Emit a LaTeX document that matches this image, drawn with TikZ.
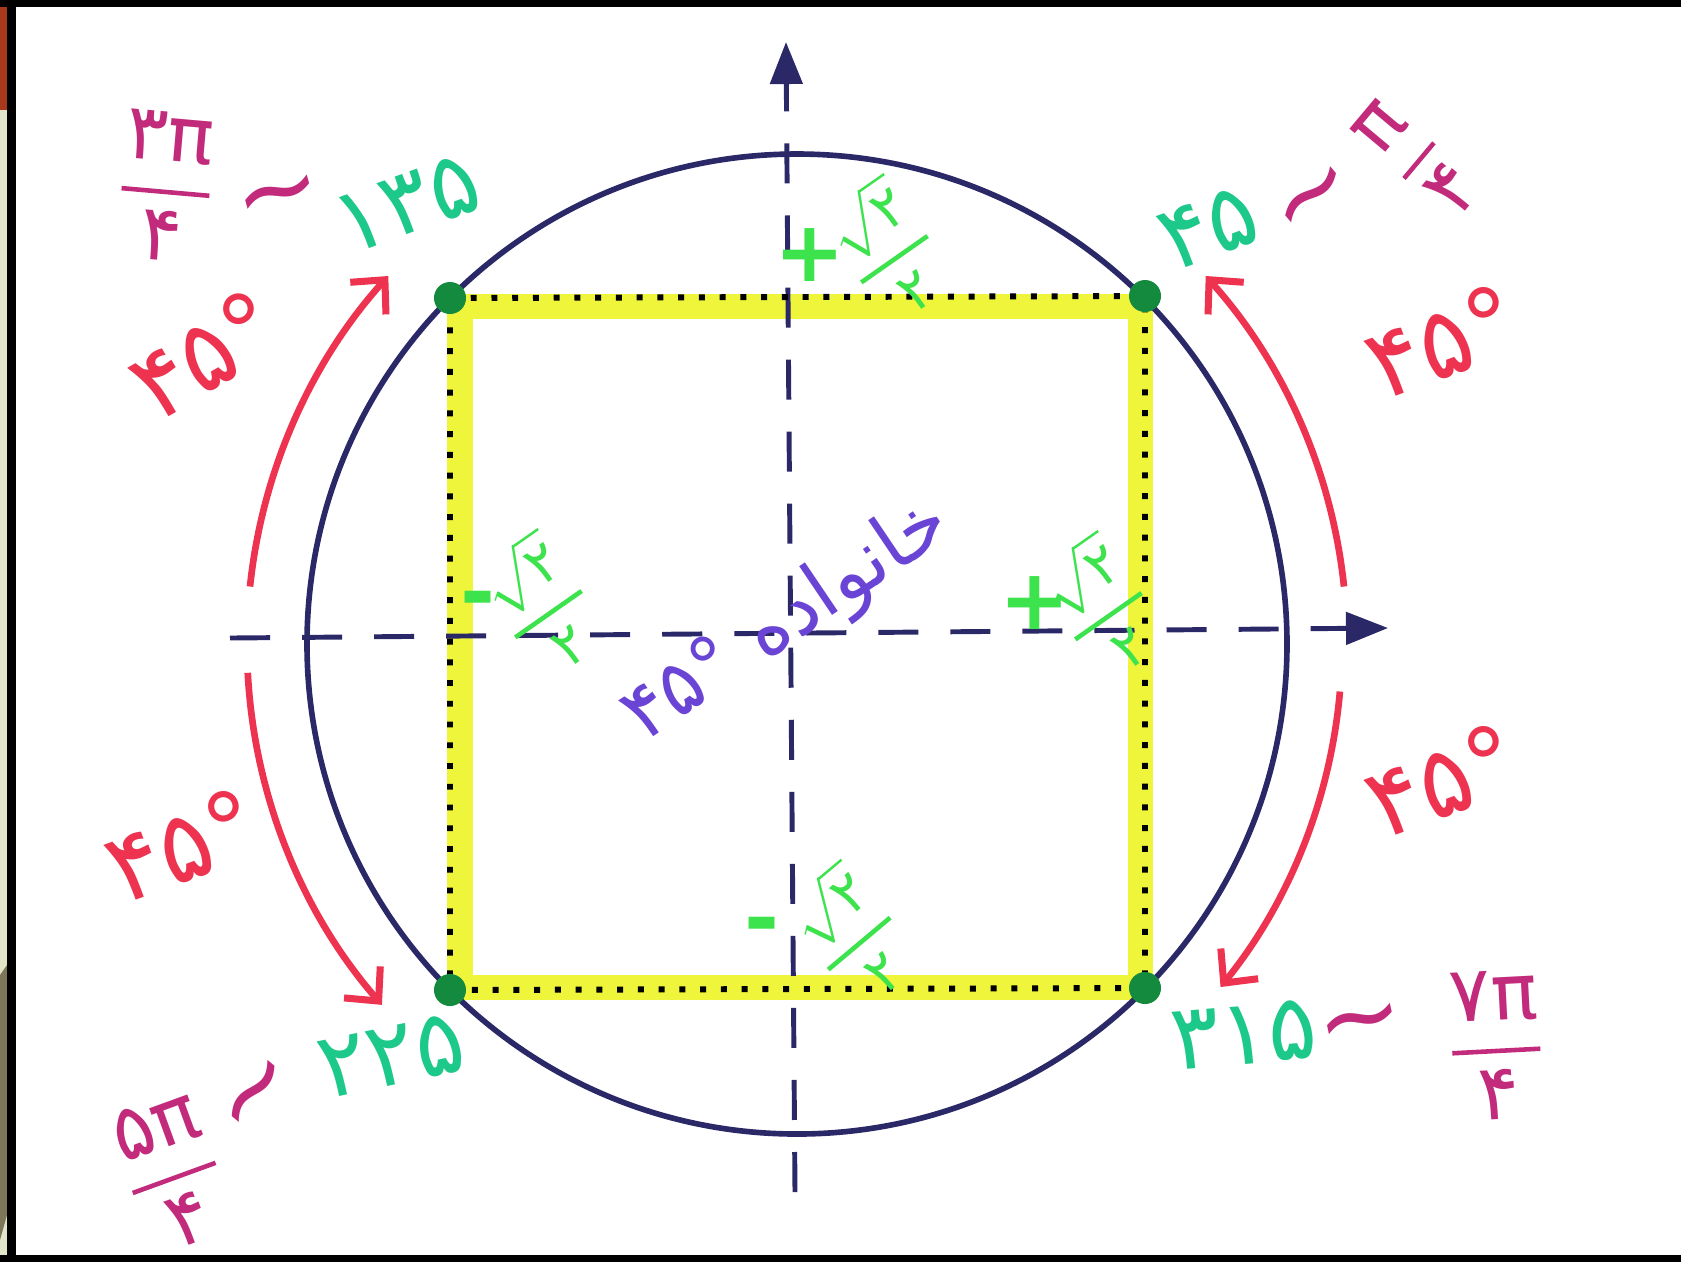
\documentclass[tikz,border=0pt]{standalone}
\usepackage{amsmath}
\usepackage{fontspec}
\setmainfont{DejaVu Sans}
\newfontfamily\fafont[Script=Arabic]{DejaVu Sans}
\TeXXeTstate=1
\usetikzlibrary{arrows.meta, calc, positioning}

\definecolor{navy}{HTML}{2B2868}
\definecolor{hilite}{HTML}{EEF53A}
\definecolor{dotgreen}{HTML}{138A3E}
\definecolor{degteal}{HTML}{1CC98A}
\definecolor{sqgreen}{HTML}{3DE34C}
\definecolor{arcred}{HTML}{EE3350}
\definecolor{pimag}{HTML}{C22A7C}
\definecolor{famviolet}{HTML}{6A44D4}
\definecolor{stripbg}{HTML}{E1E5C9}
\definecolor{stripdark}{HTML}{7D7658}
\definecolor{brick}{HTML}{A8381A}

\newcommand{\handfrac}[2]{\ensuremath{\genfrac{}{}{1.3pt}{0}{#1}{#2}}}

\begin{document}
\begin{tikzpicture}[x=0.01cm, y=-0.01cm,
        axis/.style={navy, line width=1.4pt, dash pattern=on 0.4cm off 0.32cm, -{Triangle[length=0.42cm, width=0.32cm]}},
        ring/.style={navy, line width=1.6pt},
        band/.style={hilite, line width=0.25cm},
        dotline/.style={black, line width=1.7pt, dash pattern=on 1.7pt off 4.2pt},
        dot/.style={circle, fill=dotgreen, inner sep=0pt, minimum size=0.32cm},
        deglab/.style={degteal, inner sep=0pt, font=\fontsize{26}{30}\selectfont\fafont},
        arclab/.style={arcred, inner sep=0pt, font=\fontsize{28}{32}\selectfont\fafont},
        pilab/.style={pimag, inner sep=0pt, font=\fontsize{22}{26}\selectfont},
        tildemark/.style={pimag, inner sep=0pt, font=\fontsize{30}{34}\selectfont},
        sqlab/.style={sqgreen, inner sep=0pt, font=\fontsize{16}{19}\selectfont},
        sqsign/.style={sqgreen, inner sep=0pt, font=\fontsize{24}{28}\selectfont\bfseries},
        famlab/.style={famviolet, inner sep=0pt, font=\fontsize{22}{26}\selectfont\fafont},
        arcarrow/.style={arcred, line width=1.9pt, -{Straight Barb[length=0.25cm, width=0.48cm, line width=2pt]}}
        ]

        \useasboundingbox (0,0) rectangle (1681,1262);

        % frame
        \fill[white] (0,0) rectangle (1681,1262);
        \fill[stripbg] (0,0) rectangle (7,1262);
        \fill[stripdark] (0,975) -- (7,965) -- (7,1215) -- (0,1240) -- cycle;
        \fill[brick] (0,7) rectangle (7,110);
        \fill[black] (0,0) rectangle (1681,7);
        \fill[black] (0,1255) rectangle (1681,1262);
        \fill[black] (7,0) rectangle (16,1262);

        % points
        \coordinate (o) at (797,644);
        \coordinate (c45) at (1145,296);
        \coordinate (c135) at (450,298);
        \coordinate (c225) at (450,990);
        \coordinate (c315) at (1145,988);

        % yellow square
        \draw[band] (460,306) rectangle (1140,987);

        % axes
        \coordinate (xl) at (230,638);
        \coordinate (xr) at (1388,628);
        \coordinate (yb) at (795,1192);
        \coordinate (yt) at (786,42);
        \draw[axis] (xl) -- (xr);
        \draw[axis] (yb) -- (yt);

        % circle and dotted square
        \draw[ring] (o) circle[radius=490];
        \draw[dotline] (c135) -- (c45) -- (c315) -- (c225) -- cycle;

        \node (p45) [dot] at (c45) {};
        \node (p135) [dot] at (c135) {};
        \node (p225) [dot] at (c225) {};
        \node (p315) [dot] at (c315) {};

        % degrees
        \node (d135) [deglab, rotate=20] at ($(p135)+(-43,-94)$) {۱۳۵};
        \node (d45) [deglab, rotate=20] at ($(p45)+(64,-68)$) {۴۵};
        \node (d225) [deglab, rotate=12] at ($(p225)+(-59,66)$) {۲۲۵};
        \node (d315) [deglab, rotate=5] at ($(p315)+(99,47)$) {۳۱۵};

        % radians
        \node (t135) [tildemark, rotate=15] at (281,204) {\textasciitilde};
        \node (t45) [tildemark, rotate=40] at (1319,204) {\textasciitilde};
        \node (t225) [tildemark, rotate=50] at (263,1099) {\textasciitilde};
        \node (t315) [tildemark, rotate=12] at (1362,1031) {\textasciitilde};
        \node (f135) [pilab, rotate=-5] at (166,186) {\handfrac{\text{۳π}}{\text{۴}}};
        \node (f45) [pilab, rotate=50] at (1417,159) {\handfrac{\text{π}}{\text{۴}}};
        \node (f225) [pilab, rotate=20] at (172,1172) {\handfrac{\text{۵π}}{\text{۴}}};
        \node (f315) [pilab, rotate=3] at (1496,1045) {\handfrac{\text{۷π}}{\text{۴}}};

        % red arcs
        \draw[arcarrow] ($(o)+(-174:550)$) arc[start angle=-174, end angle=-138, radius=550];
        \draw[arcarrow] ($(o)+(-6:550)$) arc[start angle=-6, end angle=-42, radius=550];
        \draw[arcarrow] ($(o)+(-183:550)$) arc[start angle=-183, end angle=-221, radius=550];
        \draw[arcarrow] ($(o)+(5:545)$) arc[start angle=5, end angle=39, radius=545];
        \node (r135) [arclab, rotate=30] at (204,354) {۴۵°};
        \node (r45) [arclab, rotate=20] at (1442,341) {۴۵°};
        \node (r225) [arclab, rotate=20] at (182,845) {۴۵°};
        \node (r315) [arclab, rotate=20] at (1442,780) {۴۵°};

        % sqrt values
        \node (sTop) [sqlab, rotate=35] at (888,250) {\handfrac{\sqrt{\text{۲}}}{\text{۲}}};
        \node (sTopSign) [sqsign] at (810,255) {+};
        \node (sLeft) [sqlab, rotate=35] at (542,605) {\handfrac{\sqrt{\text{۲}}}{\text{۲}}};
        \node (sLeftSign) [sqsign] at (478,606) {-};
        \node (sRight) [sqlab, rotate=35] at (1102,607) {\handfrac{\sqrt{\text{۲}}}{\text{۲}}};
        \node (sRightSign) [sqsign] at (1035,603) {+};
        \node (sBot) [sqlab, rotate=40] at (852,935) {\handfrac{\sqrt{\text{۲}}}{\text{۲}}};
        \node (sBotSign) [sqsign] at (762,932) {-};

        % family label
        \node (fam) [famlab, rotate=34] at (788,622) {\beginR خانواده \beginL۴۵°\endL\endR};

    \end{tikzpicture}
\end{document}
